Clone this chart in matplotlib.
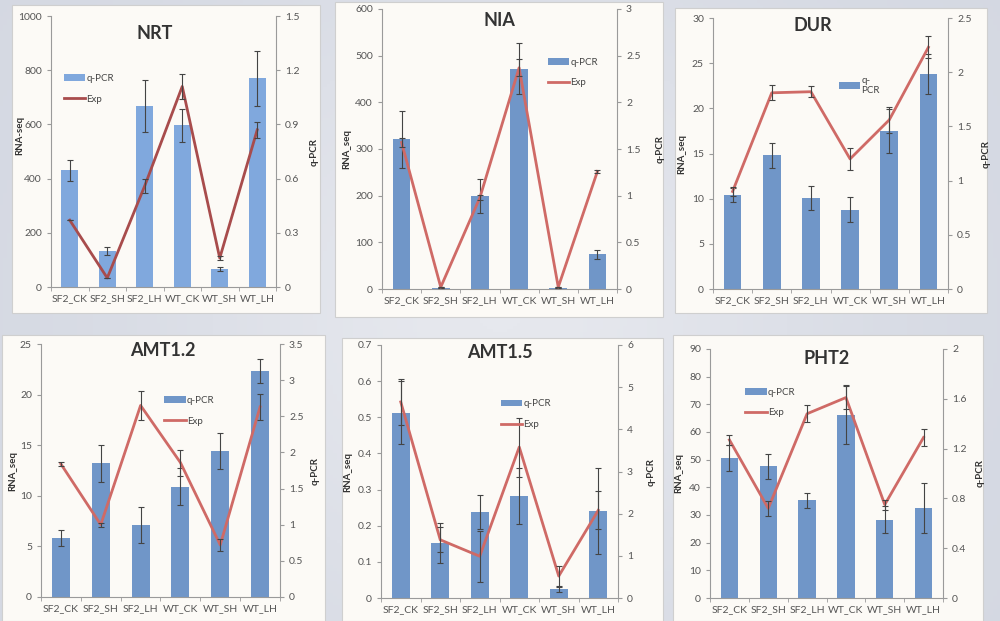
import matplotlib
matplotlib.use("Agg")
import matplotlib.pyplot as plt
from matplotlib.patches import Rectangle
from matplotlib.colors import LinearSegmentedColormap
import numpy as np

plt.rcParams['font.family'] = ['Lato', 'DejaVu Sans']

categories = ['SF2_CK', 'SF2_SH', 'SF2_LH', 'WT_CK', 'WT_SH', 'WT_LH']

# ---- NRT ----
nrt_bar = [430, 132, 667, 596, 66, 770]
nrt_bar_err = [38, 15, 95, 60, 8, 102]
nrt_line = [0.37, 0.05, 0.56, 1.11, 0.16, 0.87]
nrt_line_err = [0.0, 0.0, 0.04, 0.07, 0.01, 0.045]
nrt_left_ticks = [0, 200, 400, 600, 800, 1000]
nrt_right_ticks = [0, 0.3, 0.6, 0.9, 1.2, 1.5]
nrt_right_labels = ['0', '0.3', '0.6', '0.9', '1.2', '1.5']

# ---- NIA ----
nia_bar = [321, 2, 199, 472, 1.5, 74]
nia_bar_err = [61, 0, 36, 55, 0, 9]
nia_line = [1.57, 0.02, 0.98, 2.37, 0.02, 1.26]
nia_line_err = [0.05, 0.0, 0.03, 0.09, 0.0, 0.02]
nia_left_ticks = [0, 100, 200, 300, 400, 500, 600]
nia_right_ticks = [0, 0.5, 1, 1.5, 2, 2.5, 3]
nia_right_labels = ['0', '0.5', '1', '1.5', '2', '2.5', '3']

# ---- DUR ----
dur_bar = [10.4, 14.8, 10.1, 8.8, 17.5, 23.8]
dur_bar_err = [0.8, 1.4, 1.3, 1.4, 2.4, 2.2]
dur_line = [0.9, 1.81, 1.82, 1.2, 1.56, 2.23]
dur_line_err = [0.04, 0.07, 0.05, 0.1, 0.12, 0.1]
dur_left_ticks = [0, 5, 10, 15, 20, 25, 30]
dur_right_ticks = [0, 0.5, 1, 1.5, 2, 2.5]
dur_right_labels = ['0', '0.5', '1', '1.5', '2', '2.5']

# ---- AMT1.2 ----
amt12_bar = [5.8, 13.2, 7.1, 10.9, 14.4, 22.3]
amt12_bar_err = [0.8, 1.8, 1.8, 1.8, 1.8, 1.2]
amt12_line = [1.84, 1.0, 2.65, 1.86, 0.72, 2.63]
amt12_line_err = [0.03, 0.03, 0.2, 0.18, 0.08, 0.18]
amt12_left_ticks = [0, 5, 10, 15, 20, 25]
amt12_right_ticks = [0, 0.5, 1, 1.5, 2, 2.5, 3, 3.5]
amt12_right_labels = ['0', '0.5', '1', '1.5', '2', '2.5', '3', '3.5']

# ---- AMT1.5 ----
amt15_bar = [0.513, 0.153, 0.238, 0.282, 0.024, 0.241]
amt15_bar_err = [0.087, 0.055, 0.048, 0.078, 0.008, 0.12]
amt15_line = [4.65, 1.38, 0.99, 3.58, 0.52, 2.08]
amt15_line_err = [0.55, 0.3, 0.6, 0.7, 0.25, 0.45]
amt15_left_ticks = [0, 0.1, 0.2, 0.3, 0.4, 0.5, 0.6, 0.7]
amt15_left_labels = ['0', '0.1', '0.2', '0.3', '0.4', '0.5', '0.6', '0.7']
amt15_right_ticks = [0, 1, 2, 3, 4, 5, 6]
amt15_right_labels = ['0', '1', '2', '3', '4', '5', '6']

# ---- PHT2 ----
pht2_bar = [50.6, 47.6, 35.3, 66.3, 28.3, 32.5]
pht2_bar_err = [4.8, 4.6, 2.6, 10.8, 4.8, 9.0]
pht2_line = [1.27, 0.72, 1.48, 1.61, 0.75, 1.29]
pht2_line_err = [0.04, 0.06, 0.07, 0.09, 0.04, 0.07]
pht2_left_ticks = [0, 10, 20, 30, 40, 50, 60, 70, 80, 90]
pht2_right_ticks = [0, 0.4, 0.8, 1.2, 1.6, 2.0]
pht2_right_labels = ['0', '0.4', '0.8', '1.2', '1.6', '2']

W, H = 1000, 621
fig = plt.figure(figsize=(10, 6.21), dpi=100)
fig.patch.set_facecolor('#dcdfe8')

# subtle background gradient
bg = fig.add_axes([0, 0, 1, 1], zorder=-10)
yy, xx = np.mgrid[0:1:200j, 0:1:300j]
grad = np.exp(-((xx - 0.5) ** 2 / 0.12 + (yy - 0.5) ** 2 / 0.3))
bgcmap = LinearSegmentedColormap.from_list('bg', ['#d4d8e2', '#e6e8ee'])
bg.imshow(grad, cmap=bgcmap, vmin=0, vmax=1, aspect='auto', extent=[0, 1, 0, 1])
bg.axis('off')

def px_rect(x0, y0, x1, y1):
    return [x0 / W, 1 - y1 / H, (x1 - x0) / W, (y1 - y0) / H]

panels = [
    dict(title='NRT', box=(12, 5, 320, 313), ax=(51, 16, 276, 287),
         bar=nrt_bar, bar_err=nrt_bar_err, line=nrt_line, line_err=nrt_line_err,
         lt=nrt_left_ticks, ll=None, rt=nrt_right_ticks, rl=nrt_right_labels,
         ylabel='RNA-seq', leg=(0.04, 0.80), dur=False, tpos=(0.46, 0.937),
         rpad=7, lpad=-4, ly=0.56,
         bcol='#80a8dd', lcol='#a84c4c'),
    dict(title='NIA', box=(335, 2, 663, 317), ax=(382, 9, 617, 289),
         bar=nia_bar, bar_err=nia_bar_err, line=nia_line, line_err=nia_line_err,
         lt=nia_left_ticks, ll=None, rt=nia_right_ticks, rl=nia_right_labels,
         ylabel='RNA_seq', leg=(0.69, 0.84), dur=False, tpos=(0.5, 0.96),
         rpad=11, lpad=3, ly=0.5,
         bcol='#7096c8', lcol='#cf6a66'),
    dict(title='DUR', box=(675, 8, 987, 313), ax=(713, 18, 948, 289),
         bar=dur_bar, bar_err=dur_bar_err, line=dur_line, line_err=dur_line_err,
         lt=dur_left_ticks, ll=None, rt=dur_right_ticks, rl=dur_right_labels,
         ylabel='RNA_seq', leg=(0.52, 0.80), dur=True, tpos=(0.425, 0.974),
         rpad=7, lpad=4, ly=0.5,
         bcol='#7096c8', lcol='#cf6a66'),
    dict(title='AMT1.2', box=(2, 335, 325, 621), ax=(41, 344, 280, 597),
         bar=amt12_bar, bar_err=amt12_bar_err, line=amt12_line, line_err=amt12_line_err,
         lt=amt12_left_ticks, ll=None, rt=amt12_right_ticks, rl=amt12_right_labels,
         ylabel='RNA_seq', leg=(0.50, 0.81), dur=False, tpos=(0.51, 0.976),
         rpad=5, lpad=2, ly=0.5,
         bcol='#7096c8', lcol='#cf6a66'),
    dict(title='AMT1.5', box=(342, 338, 663, 621), ax=(381, 345, 618, 598),
         bar=amt15_bar, bar_err=amt15_bar_err, line=amt15_line, line_err=amt15_line_err,
         lt=amt15_left_ticks, ll=amt15_left_labels, rt=amt15_right_ticks, rl=amt15_right_labels,
         ylabel='RNA_seq', leg=(0.49, 0.80), dur=False, tpos=(0.50, 0.972),
         rpad=9.5, lpad=4, ly=0.5,
         bcol='#7096c8', lcol='#cf6a66'),
    dict(title='PHT2', box=(673, 335, 983, 621), ax=(710, 349, 943, 598),
         bar=pht2_bar, bar_err=pht2_bar_err, line=pht2_line, line_err=pht2_line_err,
         lt=pht2_left_ticks, ll=None, rt=pht2_right_ticks, rl=pht2_right_labels,
         ylabel='RNA_seq', leg=(0.135, 0.86), dur=False, tpos=(0.50, 0.962),
         rpad=6.5, lpad=4, ly=0.5,
         bcol='#7096c8', lcol='#cf6a66'),
]

tcol = '#555555'
scol = '#9a9a9a'
x = np.arange(len(categories))

for p in panels:
    bx = p['box']
    fig.patches.append(Rectangle((bx[0] / W, 1 - bx[3] / H), (bx[2] - bx[0]) / W, (bx[3] - bx[1]) / H,
                                 transform=fig.transFigure, facecolor='#fcfaf6',
                                 edgecolor='#cfcfcf', linewidth=0.8, zorder=-5))
    ax = fig.add_axes(px_rect(*p['ax']))
    ax.patch.set_alpha(0)
    bars = ax.bar(x, p['bar'], width=0.45, color=p['bcol'], label='q-PCR', zorder=2)
    ax.errorbar(x, p['bar'], yerr=p['bar_err'], fmt='none', ecolor='#444444',
                elinewidth=0.8, capsize=2.2, capthick=0.8, zorder=3)
    ax.set_xlim(-0.5, len(categories) - 0.5)
    ax.set_ylim(p['lt'][0], p['lt'][-1])
    ax.set_yticks(p['lt'])
    if p['ll'] is not None:
        ax.set_yticklabels(p['ll'])
    ax.set_xticks(x)
    ax.set_xticklabels(categories)
    ax.set_xticks(np.arange(-0.5, len(categories), 1.0), minor=True)
    ax.tick_params(axis='x', which='major', length=0, labelsize=7.5, colors=tcol, pad=5)
    ax.tick_params(axis='x', which='minor', length=3, color=scol, direction='out')
    ax.tick_params(axis='y', labelsize=7.5, colors=tcol, length=3, color=scol, direction='out')
    for s in ['top', 'right']:
        ax.spines[s].set_visible(False)
    for s in ['left', 'bottom']:
        ax.spines[s].set_color(scol)
        ax.spines[s].set_linewidth(0.8)
    ax.set_ylabel(p['ylabel'], fontsize=7, fontweight='bold', color='#333333', labelpad=p['lpad'])
    ax.yaxis.label.set_y(p['ly'])
    ax.text(p['tpos'][0], p['tpos'][1], p['title'], transform=ax.transAxes,
            ha='center', va='center', fontsize=13, fontweight='bold', color='#333333', zorder=6)

    ax2 = ax.twinx()
    ax2.patch.set_alpha(0)
    ln, = ax2.plot(x, p['line'], color=p['lcol'], linewidth=2, label='Exp', zorder=4)
    ax2.errorbar(x, p['line'], yerr=p['line_err'], fmt='none', ecolor='#444444',
                 elinewidth=0.8, capsize=2.2, capthick=0.8, zorder=5)
    ax2.set_ylim(p['rt'][0], p['rt'][-1])
    ax2.set_yticks(p['rt'])
    ax2.set_yticklabels(p['rl'])
    ax2.tick_params(axis='y', labelsize=7.5, colors=tcol, length=3, color=scol, direction='out')
    for s in ['top', 'left', 'bottom']:
        ax2.spines[s].set_visible(False)
    ax2.spines['right'].set_color(scol)
    ax2.spines['right'].set_linewidth(0.8)
    ax2.set_ylabel('q-PCR', fontsize=7, fontweight='bold', color='#333333', labelpad=p['rpad'])

    if p['dur']:
        handles, labels = [bars], ['q-\nPCR']
    else:
        handles, labels = [bars, ln], ['q-PCR', 'Exp']
    leg = ax2.legend(handles, labels, loc='upper left', bbox_to_anchor=p['leg'],
                     frameon=False, fontsize=7, handlelength=2.2, handleheight=0.7,
                     handletextpad=0.1, labelspacing=1.2, borderaxespad=0)
    for t in leg.get_texts():
        t.set_color('#444444')

fig.savefig('out.png', dpi=100, facecolor=fig.get_facecolor())
